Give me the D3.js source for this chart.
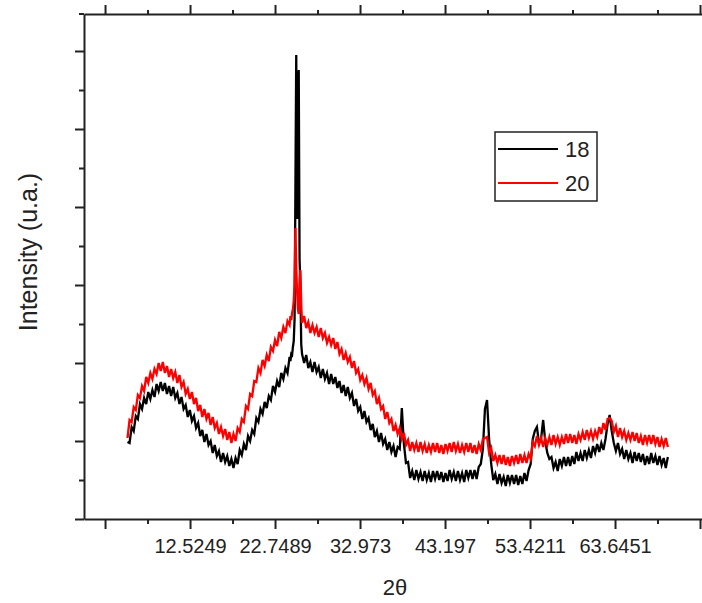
<!DOCTYPE html>
<html>
<head>
<meta charset="utf-8">
<script src="https://cdn.jsdelivr.net/npm/d3@7.9.0/dist/d3.min.js"></script>
<style>
  body { margin: 0; background: #fff; }
  svg { display: block; }
  text { font-family: "Liberation Sans", Arial, sans-serif; fill: #222; }
</style>
</head>
<body>
<svg id="chart" width="702" height="603"></svg>
<script>
// 2theta scan positions (degrees)
const twoTheta = [
  5, 5.25, 5.5, 5.75,   6, 6.25, 6.5, 6.75,   7, 7.25, 7.5, 7.75,   8, 8.25, 8.5, 8.75,
  9, 9.25, 9.5, 9.75,   10, 10.25, 10.5, 10.75,   11, 11.25, 11.5, 11.75,   12, 12.25, 12.5, 12.75,
  13, 13.25, 13.5, 13.75,   14, 14.25, 14.5, 14.75,   15, 15.25, 15.5, 15.75,   16, 16.25, 16.5, 16.75,
  17, 17.25, 17.5, 17.75,   18, 18.25, 18.5, 18.75,   19, 19.25, 19.5, 19.75,   20, 20.25, 20.5, 20.75,
  21, 21.25, 21.5, 21.75,   22, 22.25, 22.5, 22.75,   23, 23.25, 23.5, 23.75,   24, 24.25, 24.5,
  24.6, 24.7, 24.8, 24.9, 25.0, 25.1, 25.2, 25.3, 25.4, 25.5, 25.6, 25.7, 25.8, 25.9,
  26, 26.25, 26.5, 26.75,   27, 27.25, 27.5, 27.75,   28, 28.25, 28.5, 28.75,   29, 29.25, 29.5, 29.75,
  30, 30.25, 30.5, 30.75,   31, 31.25, 31.5, 31.75,   32, 32.25, 32.5, 32.75,   33, 33.25, 33.5, 33.75,
  34, 34.25, 34.5, 34.75,   35, 35.25, 35.5, 35.75,   36, 36.25, 36.5, 36.75,   37, 37.25, 37.5, 37.75,
  38, 38.25, 38.5, 38.75,   39, 39.25, 39.5, 39.75,   40, 40.25, 40.5, 40.75,   41, 41.25, 41.5, 41.75,
  42, 42.25, 42.5, 42.75,   43, 43.25, 43.5, 43.75,   44, 44.25, 44.5, 44.75,   45, 45.25, 45.5, 45.75,
  46, 46.25, 46.5, 46.75,   47, 47.25, 47.5, 47.75,   48, 48.25, 48.5, 48.75,   49, 49.25, 49.5, 49.75,
  50, 50.25, 50.5, 50.75,   51, 51.25, 51.5, 51.75,   52, 52.25, 52.5, 52.75,   53, 53.25, 53.5, 53.75,
  54, 54.25, 54.5, 54.75,   55, 55.25, 55.5, 55.75,   56, 56.25, 56.5, 56.75,   57, 57.25, 57.5, 57.75,
  58, 58.25, 58.5, 58.75,   59, 59.25, 59.5, 59.75,   60, 60.25, 60.5, 60.75,   61, 61.25, 61.5, 61.75,
  62, 62.25, 62.5, 62.75,   63, 63.25, 63.5, 63.75,   64, 64.25, 64.5, 64.75,   65, 65.25, 65.5, 65.75,
  66, 66.25, 66.5, 66.75,   67, 67.25, 67.5, 67.75,   68, 68.25, 68.5, 68.75,   69, 69.25, 69.5, 69.75,
  70
];

// sample 18 (black), arbitrary units
const intensity18 = [
  77, 76, 92, 88,   103, 100, 115, 110,   121, 115, 127, 120,   129, 122, 135, 128,
  137, 128, 136, 125,   133, 123, 132, 121,   126, 115, 122, 110,   114, 102, 109, 98,
  103, 91, 96, 83,   89, 77, 85, 74,   78, 66, 74, 63,   68, 57, 66, 57,
  63, 53, 60, 51,   61, 55, 69, 64,   75, 69, 83, 78,   89, 85, 101, 97,
  110, 105, 117, 111,   123, 119, 133, 127,   138, 132, 146, 140,   151, 146, 162,
  158, 165, 164, 172, 178, 200, 330, 464, 300, 420, 449, 260, 232, 175,
  165, 156, 164, 151,   157, 147, 157, 147,   152, 141, 150, 140,   146, 135, 145, 135,
  142, 131, 138, 126,   134, 123, 132, 121,   126, 113, 120, 108,   112, 100, 108, 97,
  101, 89, 95, 82,   88, 77, 86, 75,   80, 69, 77, 67,   73, 62, 72, 70,
  111, 75, 56, 57,   41, 48, 39, 49,   40, 47, 38, 48,   39, 46, 37, 48,
  40, 48, 39, 47,   37, 46, 38, 49,   40, 47, 38, 48,   39, 46, 37, 49,
  41, 49, 40, 49,   40, 52, 55, 70,   110, 119, 80, 55,   39, 45, 35, 45,
  36, 42, 33, 44,   36, 44, 35, 44,   34, 43, 35, 46,   38, 49, 55, 80,
  88, 92, 76, 80,   99, 78, 66, 60,   62, 51, 57, 48,   60, 53, 62, 53,
  62, 53, 63, 55,   67, 58, 66, 58,   69, 61, 69, 61,   73, 66, 75, 67,
  76, 69, 80, 95,   104, 88, 76, 68,   76, 65, 70, 60,   69, 60, 66, 56,
  67, 58, 66, 57,   65, 54, 63, 55,   66, 56, 63, 54,   63, 54, 61, 51,
  62
];

// sample 20 (red), arbitrary units
const intensity20 = [
  81, 99, 97, 112,   109, 124, 121, 133,   128, 142, 136, 146,   140, 150, 145, 156,
  148, 157, 146, 153,   142, 150, 141, 147,   136, 144, 132, 137,   125, 130, 120, 127,
  115, 121, 108, 114,   102, 110, 100, 106,   94, 102, 91, 96,   85, 92, 83, 90,
  79, 87, 76, 85,   78, 91, 87, 100,   97, 113, 110, 125,   123, 138, 137, 151,
  146, 159, 153, 164,   158, 172, 168, 179,   173, 187, 181, 192,   186, 198, 194,
  203, 199, 206, 210, 218, 235, 291, 250, 228, 210, 205, 240, 249, 215,
  196, 203, 191, 197,   186, 194, 186, 192,   182, 191, 181, 186,   176, 182, 174, 181,
  170, 177, 165, 170,   159, 166, 157, 162,   151, 158, 146, 150,   139, 144, 135, 141,
  130, 136, 124, 128,   115, 121, 110, 113,   100, 107, 96, 100,   88, 94, 85, 91,
  80, 86, 74, 79,   68, 77, 69, 76,   67, 77, 68, 75,   66, 74, 67, 76,
  67, 76, 66, 74,   65, 75, 68, 76,   67, 77, 68, 75,   66, 74, 67, 76,
  67, 76, 66, 74,   65, 75, 69, 80,   81, 82, 66, 71,   58, 64, 56, 64,
  55, 64, 54, 62,   53, 63, 56, 64,   55, 65, 56, 64,   56, 65, 60, 77,
  73, 83, 74, 81,   72, 81, 74, 82,   74, 84, 75, 82,   74, 82, 75, 85,
  76, 85, 76, 84,   75, 85, 79, 87,   79, 89, 81, 88,   80, 88, 82, 92,
  85, 96, 89, 100,   101, 98, 87, 93,   82, 91, 82, 88,   79, 86, 79, 87,
  78, 86, 76, 83,   74, 84, 76, 84,   75, 84, 75, 82,   72, 80, 73, 81,
  72
];

const seriesNames = ['18', '20'];
const seriesColors = ['#000000', '#ff0000'];

const xTickValues = [2.3009, 12.5249, 22.7489, 32.973, 43.197, 53.4211, 63.6451, 73.8691];
const xTickLabels = ['', '12.5249', '22.7489', '32.973', '43.197', '53.4211', '63.6451', ''];
const yTickValues = [0, 78, 156, 234, 312, 390, 468];

const svg = d3.select('#chart');
const margin = { left: 84, top: 14, bottom: 519, right: 710 };

const x = d3.scaleLinear().domain([-0.23, 75.07]).range([margin.left, margin.right]);
const y = d3.scaleLinear().domain([0, 505]).range([margin.bottom, margin.top]);

const xMinor = d3.pairs(xTickValues).map(([a, b]) => (a + b) / 2);
const yMinor = d3.pairs(yTickValues).map(([a, b]) => (a + b) / 2);

function styleAxis(g) {
  g.selectAll('path, line').attr('stroke', '#222').attr('stroke-width', 2);
  g.selectAll('text').attr('fill', '#222');
}

// bottom axis
svg.append('g')
  .attr('transform', `translate(0,${margin.bottom})`)
  .call(d3.axisBottom(x).tickValues(xTickValues).tickSize(10).tickSizeOuter(0).tickPadding(10)
    .tickFormat((d, i) => xTickLabels[i]))
  .call(styleAxis)
  .call(g => g.selectAll('text').style('font-size', '20px').attr('font-family', '"Liberation Sans", Arial, sans-serif'));
svg.append('g')
  .attr('transform', `translate(0,${margin.bottom})`)
  .call(d3.axisBottom(x).tickValues(xMinor).tickSize(5).tickFormat(''))
  .call(styleAxis)
  .call(g => g.select('.domain').remove());

// top axis
svg.append('g')
  .attr('transform', `translate(0,${margin.top})`)
  .call(d3.axisTop(x).tickValues(xTickValues).tickSize(9).tickSizeOuter(0).tickFormat(''))
  .call(styleAxis);
svg.append('g')
  .attr('transform', `translate(0,${margin.top})`)
  .call(d3.axisTop(x).tickValues(xMinor).tickSize(4).tickFormat(''))
  .call(styleAxis)
  .call(g => g.select('.domain').remove());

// left axis
svg.append('g')
  .attr('transform', `translate(${margin.left},0)`)
  .call(d3.axisLeft(y).tickValues(yTickValues).tickSize(9).tickSizeOuter(0).tickFormat(''))
  .call(styleAxis);
svg.append('g')
  .attr('transform', `translate(${margin.left},0)`)
  .call(d3.axisLeft(y).tickValues(yMinor).tickSize(5).tickFormat(''))
  .call(styleAxis)
  .call(g => g.select('.domain').remove());

// small overhang of the frame at the top-left corner
svg.append('line').attr('x1', 79).attr('x2', margin.left).attr('y1', margin.top).attr('y2', margin.top)
  .attr('stroke', '#222').attr('stroke-width', 2);

// data lines, red drawn last so it sits on top
const line = d3.line().x(d => x(d[0])).y(d => y(d[1]));
[intensity18, intensity20].forEach((vals, i) => {
  svg.append('path')
    .datum(d3.zip(twoTheta, vals))
    .attr('d', line)
    .attr('fill', 'none')
    .attr('stroke', seriesColors[i])
    .attr('stroke-width', 2.3);
});

// axis titles
svg.append('text')
  .attr('x', 395).attr('y', 595)
  .attr('text-anchor', 'middle')
  .style('font-size', '22px')
  .text('2θ');
svg.append('text')
  .attr('transform', 'translate(37,252) rotate(-90)')
  .attr('text-anchor', 'middle')
  .style('font-size', '25px')
  .text('Intensity (u.a.)');

// legend
const legend = svg.append('g');
legend.append('rect')
  .attr('x', 495).attr('y', 132).attr('width', 102).attr('height', 69)
  .attr('fill', '#fff').attr('stroke', '#222').attr('stroke-width', 1.5);
seriesNames.forEach((name, i) => {
  const ly = 149 + i * 34;
  legend.append('line')
    .attr('x1', 498).attr('x2', 558).attr('y1', ly).attr('y2', ly)
    .attr('stroke', seriesColors[i]).attr('stroke-width', 1.8);
  legend.append('text')
    .attr('x', 565).attr('y', ly + 8)
    .style('font-size', '22px')
    .text(name);
});
</script>
</body>
</html>
